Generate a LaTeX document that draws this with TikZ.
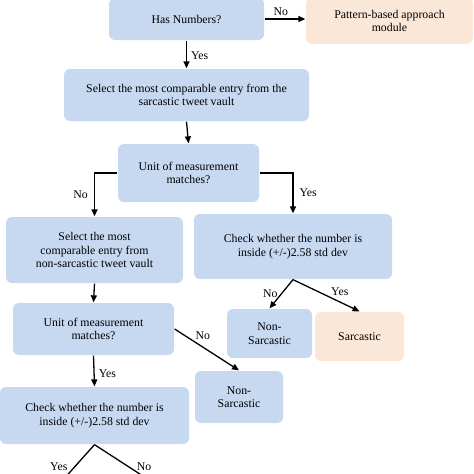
\documentclass[tikz,border=0pt]{standalone}
\usepackage{fontspec}
\setmainfont{Liberation Serif}
\usetikzlibrary{arrows.meta}
\definecolor{boxblue}{RGB}{198,217,240}
\definecolor{boxorange}{RGB}{251,231,216}
\tikzset{basic/.style={fill=boxblue,rounded corners=6pt,align=center,
                       inner sep=1pt,font=\fontsize{11.8}{13.5}\selectfont}}
\tikzset{test/.style={basic}}
\tikzset{result/.style={basic,fill=boxorange}}
\tikzset{lbl/.style={font=\fontsize{11.8}{13.5}\selectfont,inner sep=1pt}}

\begin{document}
\begin{tikzpicture}[x=1pt,y=-1pt,>={Triangle[length=7pt,width=6pt]},line width=1.3pt]
    \clip (0,0) rectangle (474,474);
    \useasboundingbox (0,0) rectangle (474,474);
    % Boxes
    \node[test,minimum width=155,minimum height=42] (has) at (186.5,19) {Has Numbers?};
    \node[result,minimum width=167,minimum height=46] (pattern) at (389.5,21) {Pattern-based approach\\module};
    \node[basic,minimum width=245,minimum height=52] (sel1) at (186.5,95) {Select the most comparable entry from the\\sarcastic tweet vault};
    \node[test,minimum width=141,minimum height=58] (unit1) at (188.5,173) {Unit of measurement\\matches?};
    \node[basic,minimum width=177,minimum height=66] (sel2) at (94.5,250) {Select the most\\comparable entry from\\non-sarcastic tweet vault};
    \node[basic,minimum width=198,minimum height=65] (check1) at (293,246.5) {Check whether the number is\\inside (+/-)2.58 std dev};
    \node[basic,minimum width=85,minimum height=49] (non1) at (269.5,333.5) {Non-\\Sarcastic};
    \node[result,minimum width=89,minimum height=49] (sarc) at (359.5,336.5) {Sarcastic};
    \node[test,minimum width=161,minimum height=52] (unit2) at (93.5,329) {Unit of measurement\\matches?};
    \node[basic,minimum width=88,minimum height=52] (non2) at (239,397) {Non-\\Sarcastic};
    \node[basic,minimum width=189,minimum height=57] (check2) at (94.5,415.5) {Check whether the number is\\inside (+/-)2.58 std dev};
    \coordinate (out1) at (54,490);
    \coordinate (out2) at (164.5,490);

    % Connectors
    \draw[->] (has.east) -- node[lbl,above=2pt,pos=0.4] {No} (has.east -| pattern.west);
    \draw[->] (has.south) -- node[lbl,right=3pt,pos=0.55] {Yes} (sel1.north);
    \draw[->] (sel1.south) -- (unit1.north);
    \draw[->] (unit1.west) -| node[lbl,left=5pt,pos=0.75] {No} (sel2.north);
    \draw[->] (unit1.east) -| node[lbl,right=5pt,pos=0.75] {Yes} (check1.north);
    \draw[->] (check1.south) -- node[lbl,left=2pt,pos=0.5] {No} (non1.north);
    \draw[->] (check1.south) -- node[lbl,above right=0pt,pos=0.55] {Yes} (sarc.north);
    \draw[->] (sel2.south) -- (unit2.north);
    \draw[->] (unit2.east) -- node[lbl,above right=0pt,pos=0.3] {No} (non2.north);
    \draw[->] (unit2.south) -- node[lbl,right=3pt,pos=0.6] {Yes} (check2.north);
    \draw[->] (check2.south) -- node[lbl,left=6pt,pos=0.48] {Yes} (out1);
    \draw[->] (check2.south) -- node[lbl,right=7pt,pos=0.48] {No} (out2);
\end{tikzpicture}
\end{document}
